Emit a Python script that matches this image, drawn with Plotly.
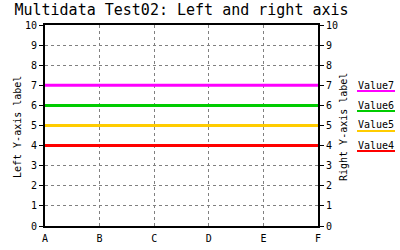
import plotly.graph_objects as go

categories = ["A", "B", "C", "D", "E", "F"]
series_names = ["Value4", "Value5", "Value6", "Value7"]
value4 = [4, 4, 4, 4, 4, 4]
value5 = [5, 5, 5, 5, 5, 5]
value6 = [6, 6, 6, 6, 6, 6]
value7 = [7, 7, 7, 7, 7, 7]
series_values = [value4, value5, value6, value7]
series_colors = ["#ff0000", "#ffcc00", "#00cc00", "#ff00ff"]
series_axis = ["y", "y", "y2", "y2"]
y_ticks = list(range(0, 11))

FONT = "DejaVu Sans Mono"
W, H = 400, 250
L, R, T, B = 45, 82, 25, 24
pw, ph = W - L - R, H - T - B

fig = go.Figure()
for name, vals, col, ax in zip(series_names, series_values, series_colors, series_axis):
    fig.add_trace(go.Scatter(x=categories, y=vals, name=name, mode="lines",
                             line=dict(color=col, width=3), yaxis=ax,
                             showlegend=False))

axis_common = dict(range=[0, 10], tickvals=y_ticks, ticks="outside", ticklen=4,
                   tickcolor="black", showline=True, linecolor="black", linewidth=2,
                   showgrid=True, gridcolor="#808080", griddash="3px,3px",
                   gridwidth=1, zeroline=False, automargin=False,
                   tickfont=dict(family=FONT, size=10, color="black"))

fig.update_layout(
    width=W, height=H,
    margin=dict(l=L, r=R, t=T, b=B, pad=0, autoexpand=False),
    paper_bgcolor="white", plot_bgcolor="white",
    font=dict(family=FONT, size=10, color="black"),
    title=dict(text="Multidata Test02: Left and right axis",
               font=dict(family=FONT, size=15, color="black"),
               x=0.5, xref="paper", xanchor="center",
               y=1 - 10 / H, yref="container", yanchor="middle"),
    xaxis=dict(type="category", range=[0, 5], showline=True, linecolor="black",
               linewidth=2, mirror=True, showgrid=True, gridcolor="#808080",
               griddash="3px,3px", ticks="", ticklabelstandoff=2, automargin=False,
               tickfont=dict(family=FONT, size=10, color="black")),
    yaxis=dict(**axis_common, side="left", mirror=False),
    yaxis2=dict(**axis_common, side="right", overlaying="y"),
)
fig.update_yaxes(showgrid=False, selector=dict(overlaying="y"))

# axis titles as rotated annotations
for text, px in [("Left Y-axis label", 17), ("Right Y-axis label", 343)]:
    fig.add_annotation(text=text, xref="paper", yref="paper",
                       x=(px - L) / pw, y=(H - B - 127) / ph, textangle=-90,
                       xanchor="center", yanchor="middle", showarrow=False,
                       font=dict(family=FONT, size=10, color="black"))

# custom legend: text with a coloured underline, top entry = last series
legend_x0, legend_x1 = 357, 395
top_text_y, step = 85, 20
for i, (name, col) in enumerate(zip(reversed(series_names), reversed(series_colors))):
    ty = top_text_y + i * step
    fig.add_annotation(text=name, xref="paper", yref="paper",
                       x=(legend_x0 - L) / pw, y=(H - B - ty) / ph,
                       xanchor="left", yanchor="middle", showarrow=False,
                       xshift=-1, font=dict(family=FONT, size=10, color="black"))
    ly = (H - B - (ty + 6)) / ph
    fig.add_shape(type="line", xref="paper", yref="paper",
                  x0=(legend_x0 - L) / pw, x1=(legend_x1 - L) / pw, y0=ly, y1=ly,
                  line=dict(color=col, width=2))

fig.write_html("out.html")
